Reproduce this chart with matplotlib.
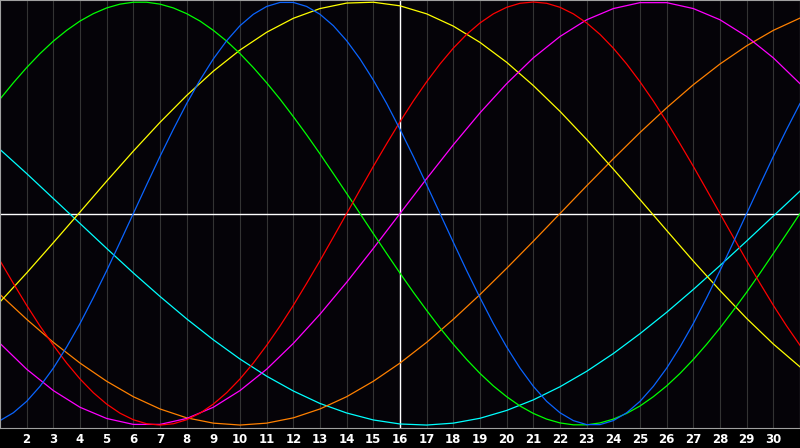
import numpy as np
import matplotlib
matplotlib.use('Agg')
import matplotlib.pyplot as plt

# days of the month shown on the chart
days = list(range(1, 32))
half_days = list(np.arange(1, 31.01, 0.5))
today = 16

# short cycles read at half-day steps
physical = [-0.979, -0.942, -0.888, -0.817, -0.731, -0.631, -0.52, -0.398, -0.27, -0.136, 0, 0.136, 0.27, 0.398,
            0.52, 0.631, 0.731, 0.817, 0.888, 0.942, 0.979, 0.998, 0.998, 0.979, 0.942, 0.888, 0.817, 0.731, 0.631,
            0.52, 0.398, 0.27, 0.136, 0, -0.136, -0.27, -0.398, -0.52, -0.631, -0.731, -0.817, -0.888, -0.942,
            -0.979, -0.998, -0.998, -0.979, -0.942, -0.888, -0.817, -0.731, -0.631, -0.52, -0.398, -0.27, -0.136,
            0, 0.136, 0.27, 0.398, 0.52]
emotional = [-0.223, -0.33, -0.434, -0.532, -0.623, -0.707, -0.782, -0.847, -0.901, -0.944, -0.975, -0.994, -1,
             -0.994, -0.975, -0.944, -0.901, -0.847, -0.782, -0.707, -0.623, -0.532, -0.434, -0.33, -0.223, -0.112,
             0, 0.112, 0.223, 0.33, 0.434, 0.532, 0.623, 0.707, 0.782, 0.847, 0.901, 0.944, 0.975, 0.994, 1, 0.994,
             0.975, 0.944, 0.901, 0.847, 0.782, 0.707, 0.623, 0.532, 0.434, 0.33, 0.223, 0.112, 0, -0.112, -0.223,
             -0.33, -0.434, -0.532, -0.623]
intellectual = [0.541, 0.618, 0.69, 0.756, 0.815, 0.866, 0.91, 0.945, 0.972, 0.99, 0.999, 0.999, 0.99, 0.972,
                0.945, 0.91, 0.866, 0.815, 0.756, 0.69, 0.618, 0.541, 0.458, 0.372, 0.282, 0.189, 0.095, 0, -0.095,
                -0.189, -0.282, -0.372, -0.458, -0.541, -0.618, -0.69, -0.756, -0.815, -0.866, -0.91, -0.945, -0.972,
                -0.99, -0.999, -0.999, -0.99, -0.972, -0.945, -0.91, -0.866, -0.815, -0.756, -0.69, -0.618, -0.541,
                -0.458, -0.372, -0.282, -0.189, -0.095, 0]

# long cycles read once per day
intuitive = [-0.614, -0.736, -0.837, -0.916, -0.969, -0.997, -0.997, -0.969, -0.916, -0.837, -0.736, -0.614,
             -0.476, -0.325, -0.165, 0.000, 0.165, 0.325, 0.476, 0.614, 0.736, 0.837, 0.916, 0.969, 0.997, 0.997,
             0.969, 0.916, 0.837, 0.736, 0.614]
aesthetic = [-0.418, -0.281, -0.138, 0.007, 0.153, 0.295, 0.431, 0.558, 0.673, 0.773, 0.857, 0.923, 0.969, 0.995,
             0.999, 0.982, 0.944, 0.886, 0.809, 0.715, 0.605, 0.483, 0.350, 0.210, 0.066, -0.080, -0.225, -0.364,
             -0.496, -0.617, -0.725]
awareness = [-0.383, -0.500, -0.609, -0.707, -0.793, -0.866, -0.924, -0.966, -0.991, -1.000, -0.991, -0.966,
             -0.924, -0.866, -0.793, -0.707, -0.609, -0.500, -0.383, -0.259, -0.131, 0.000, 0.131, 0.259, 0.383,
             0.500, 0.609, 0.707, 0.793, 0.866, 0.924]
spiritual = [0.303, 0.189, 0.071, -0.047, -0.165, -0.281, -0.392, -0.498, -0.597, -0.688, -0.769, -0.839, -0.898,
             -0.943, -0.976, -0.995, -1.000, -0.991, -0.968, -0.931, -0.881, -0.819, -0.746, -0.662, -0.568, -0.467,
             -0.359, -0.246, -0.130, -0.012, 0.106]

series = [
    (days, spiritual, '#00ffff'),
    (days, awareness, '#ff8000'),
    (days, aesthetic, '#ffff00'),
    (days, intuitive, '#ff00ff'),
    (half_days, intellectual, '#00ff00'),
    (half_days, emotional, '#ff0000'),
    (half_days, physical, '#0a64ff'),
]

fig = plt.figure(figsize=(8, 4.48), dpi=100, facecolor='#000000')
ax = fig.add_axes([0, 20 / 448, 1, 428 / 448], facecolor='#050308')

for d in days:
    ax.axvline(d, color='#333333', lw=0.8)
ax.axhline(0, color='white', lw=1.0)
ax.axvline(today, color='white', lw=1.0)

for x, y, c in series:
    ax.plot(x, y, color=c, lw=0.9)

ax.set_xlim(1, 31)
ax.set_ylim(-1.014, 1.0095)
ax.set_xticks(range(2, 31))
ax.set_xticklabels([str(d) for d in range(2, 31)], color='white', fontsize=8.5, fontweight='bold')
ax.tick_params(axis='x', length=0, pad=3.5)
ax.set_yticks([])
for s in ax.spines.values():
    s.set_color('#a0a0a0')

fig.savefig('out.png', dpi=100, facecolor='#000000')
plt.close()
